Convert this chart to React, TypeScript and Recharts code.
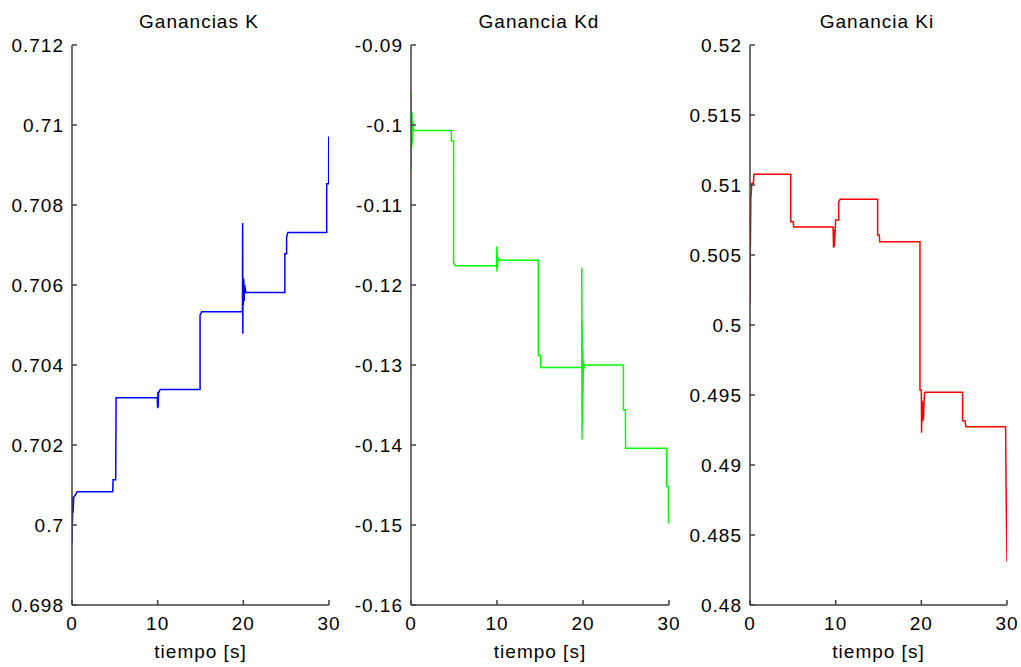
import { Label, Line, LineChart, XAxis, YAxis } from "recharts";

const FONT = '"Liberation Sans", Arial, sans-serif';
const AXIS = "#404040";

const timeTicks = [0, 10, 20, 30];

// Ganancias K
const kTime = [0, 0.02, 0.05, 0.08, 0.12, 0.2, 0.4, 0.6, 4.75, 4.8, 5.1, 5.15, 9.95, 10, 10.03, 10.06, 10.1, 10.3, 14.95, 14.95, 15.15, 19.9, 19.92, 19.94, 19.96, 20, 20.05, 20.1, 20.15, 20.3, 24.85, 24.85, 25.05, 25.05, 25.2, 29.73, 29.73, 29.96, 29.97];
const kGain = [0.69955, 0.7007, 0.70005, 0.7006, 0.7003, 0.7007, 0.70075, 0.70083, 0.70083, 0.70113, 0.70113, 0.70318, 0.70318, 0.70292, 0.70333, 0.70295, 0.7033, 0.70339, 0.70339, 0.70525, 0.70533, 0.70533, 0.70755, 0.70478, 0.7062, 0.7055, 0.70615, 0.7056, 0.706, 0.70581, 0.70581, 0.70678, 0.70678, 0.7072, 0.70731, 0.70731, 0.70853, 0.70853, 0.70971];
const kTicks = [0.698, 0.7, 0.702, 0.704, 0.706, 0.708, 0.71, 0.712];

// Ganancia Kd
const kdTime = [0, 0.01, 0.03, 0.06, 0.09, 0.12, 0.15, 0.2, 0.3, 4.7, 4.7, 4.95, 4.95, 5.15, 9.95, 9.97, 9.99, 10.02, 10.05, 10.1, 10.2, 14.8, 14.8, 15.08, 15.1, 19.85, 19.86, 19.88, 19.9, 19.93, 19.96, 20, 20.05, 20.1, 20.2, 24.7, 24.7, 24.93, 24.95, 29.74, 29.74, 29.93, 29.94];
const kdGain = [-0.1056, -0.0961, -0.103, -0.0983, -0.1028, -0.0985, -0.1022, -0.0995, -0.1007, -0.1007, -0.102, -0.102, -0.1172, -0.1176, -0.1176, -0.1152, -0.1183, -0.1158, -0.1178, -0.1165, -0.1169, -0.1169, -0.1288, -0.1288, -0.1303, -0.1303, -0.1178, -0.1393, -0.1245, -0.1375, -0.128, -0.1335, -0.1295, -0.1305, -0.13, -0.13, -0.1356, -0.1356, -0.1404, -0.1404, -0.1452, -0.1452, -0.1498];
const kdTicks = [-0.16, -0.15, -0.14, -0.13, -0.12, -0.11, -0.1, -0.09];

// Ganancia Ki
const kiTime = [0, 0.02, 0.05, 0.1, 0.15, 0.2, 0.4, 0.45, 4.75, 4.75, 5.05, 5.1, 9.7, 9.75, 9.8, 9.85, 10, 10.35, 10.35, 10.55, 10.8, 14.9, 14.9, 15.08, 15.15, 19.84, 19.84, 20, 20.03, 20.08, 20.12, 20.18, 20.25, 20.32, 20.4, 24.82, 24.82, 25.1, 25.2, 29.84, 29.9, 30];
const kiGain = [0.50157, 0.5092, 0.5056, 0.5091, 0.5095, 0.5101, 0.5101, 0.51076, 0.51076, 0.50738, 0.50738, 0.507, 0.507, 0.50552, 0.5068, 0.5056, 0.5075, 0.5075, 0.5088, 0.509, 0.50898, 0.50898, 0.50643, 0.50643, 0.50595, 0.50595, 0.49536, 0.49536, 0.49231, 0.4946, 0.4931, 0.4945, 0.4932, 0.4946, 0.49519, 0.49519, 0.49316, 0.49316, 0.49274, 0.49274, 0.48786, 0.4831];
const kiTicks = [0.48, 0.485, 0.49, 0.495, 0.5, 0.505, 0.51, 0.515, 0.52];

const rows = (t: number[], v: number[]) => t.map((x, i) => ({ t: x, v: v[i] }));

const textStyle = { fontFamily: FONT, fontSize: 19, letterSpacing: 1, fill: "#000" };

function LeftTick({ x, y, payload }: any) {
  return (
    <g>
      <line x1={x} x2={x + 5} y1={y} y2={y} stroke={AXIS} strokeWidth={1.5} />
      <text x={x - 8} y={y + 7} textAnchor="end" style={textStyle}>
        {String(payload.value)}
      </text>
    </g>
  );
}

function RightTick({ x, y }: any) {
  return <line x1={x - 5} x2={x} y1={y} y2={y} stroke={AXIS} strokeWidth={1.5} />;
}

function BottomTick({ x, y, payload }: any) {
  return (
    <g>
      <line x1={x} x2={x} y1={y} y2={y - 5} stroke={AXIS} strokeWidth={1.5} />
      <text x={x} y={y + 25} textAnchor="middle" style={textStyle}>
        {String(payload.value)}
      </text>
    </g>
  );
}

function TopTick({ x, y }: any) {
  return <line x1={x} x2={x} y1={y} y2={y + 5} stroke={AXIS} strokeWidth={1.5} />;
}

function Panel({
  left,
  width,
  axisWidth,
  right,
  data,
  color,
  ticks,
  boxed,
}: {
  left: number;
  width: number;
  axisWidth: number;
  right: number;
  data: { t: number; v: number }[];
  color: string;
  ticks: number[];
  boxed?: boolean;
}) {
  const domain = [ticks[0], ticks[ticks.length - 1]];
  return (
    <div style={{ position: "absolute", left, top: 0 }}>
      <LineChart width={width} height={667} data={data} margin={{ top: 45, right, bottom: 0, left: 0 }}>
        <XAxis
          dataKey="t"
          type="number"
          domain={[0, 30]}
          ticks={timeTicks}
          interval={0}
          allowDataOverflow
          height={62}
          tickSize={0}
          tickMargin={0}
          tickLine={false}
          tick={(p: any) => <BottomTick {...p} />}
          axisLine={{ stroke: AXIS, strokeWidth: 1.5 }}
        >
          <Label
            content={({ viewBox }: any) => (
              <text x={viewBox.x + viewBox.width / 2} y={viewBox.y + 53} textAnchor="middle" style={textStyle}>
                tiempo [s]
              </text>
            )}
          />
        </XAxis>
        <YAxis
          type="number"
          domain={domain}
          ticks={ticks}
          interval={0}
          allowDataOverflow
          width={axisWidth}
          tickSize={0}
          tickMargin={0}
          tickLine={false}
          tick={(p: any) => <LeftTick {...p} />}
          axisLine={{ stroke: AXIS, strokeWidth: 1.5 }}
        />
        {boxed && (
          <XAxis
            xAxisId="top"
            orientation="top"
            type="number"
            domain={[0, 30]}
            ticks={timeTicks}
            interval={0}
            allowDataOverflow
            height={0}
            tickSize={0}
            tickMargin={0}
            tickLine={false}
            tick={(p: any) => <TopTick {...p} />}
            axisLine={{ stroke: AXIS, strokeWidth: 1.5 }}
          />
        )}
        {boxed && (
          <YAxis
            yAxisId="right"
            orientation="right"
            type="number"
            domain={domain}
            ticks={ticks}
            interval={0}
            allowDataOverflow
            width={0}
            tickSize={0}
            tickMargin={0}
            tickLine={false}
            tick={(p: any) => <RightTick {...p} />}
            axisLine={{ stroke: AXIS, strokeWidth: 1.5 }}
          />
        )}
        <Line dataKey="v" type="linear" stroke={color} strokeWidth={1.5} dot={false} isAnimationActive={false} />
      </LineChart>
    </div>
  );
}

export default function App() {
  return (
    <div style={{ position: "absolute", left: 0, top: 0, width: 1021, height: 667, background: "#fff" }}>
      <Panel left={0} width={340} axisWidth={72} right={11} data={rows(kTime, kGain)} color="#0000ff" ticks={kTicks} />
      <Panel left={340} width={340} axisWidth={71} right={11} data={rows(kdTime, kdGain)} color="#00ff00" ticks={kdTicks} />
      <Panel left={680} width={341} axisWidth={70} right={14} data={rows(kiTime, kiGain)} color="#ff0000" ticks={kiTicks} boxed />
      <svg width={1021} height={60} style={{ position: "absolute", left: 0, top: 0, pointerEvents: "none" }}>
        <text x={199} y={28} textAnchor="middle" style={textStyle}>Ganancias K</text>
        <text x={539} y={28} textAnchor="middle" style={textStyle}>Ganancia Kd</text>
        <text x={877} y={28} textAnchor="middle" style={textStyle}>Ganancia Ki</text>
      </svg>
    </div>
  );
}
